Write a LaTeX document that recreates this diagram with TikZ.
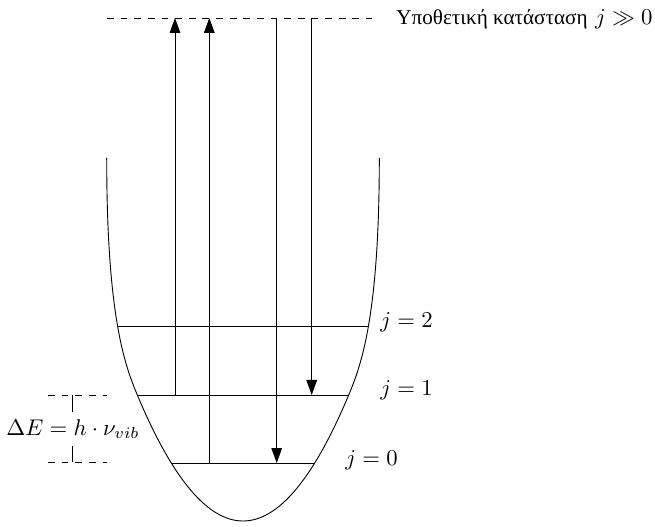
\documentclass[tikz,border=0pt]{standalone}
\usepackage{fontspec}
\newfontfamily\greekfont[Scale=0.93]{Liberation Serif}
\usetikzlibrary{arrows.meta}
\begin{document}
\begin{tikzpicture}[x=0.44pt,y=-0.44pt,
  levelline/.style={line width=0.4pt},
  trans/.style={line width=0.4pt,-{Triangle[length=6.6pt,width=4.7pt]}},
  lbl/.style={inner sep=0pt, anchor=base west}]
\useasboundingbox (0,0) rectangle (655,527);
% potential well
\coordinate (wtl) at (106.7,158);
\coordinate (wtr) at (379.3,158);
\coordinate (j1l) at (137.3,395); \coordinate (j1r) at (348.7,395);
\draw[line width=0.4pt] (wtl) .. controls (106.7,318) and (125.3,366.1) .. (j1l)
  .. controls (207.8,563) and (278.2,563) .. (j1r)
  .. controls (360.7,366.1) and (379.3,318) .. (wtr);
% levels
\coordinate (j2l) at (117.3,326); \coordinate (j2r) at (368.7,326);
\coordinate (j0l) at (172,463);   \coordinate (j0r) at (314,463);
\draw[levelline] (j2l) -- (j2r);
\draw[levelline] (j1l) -- (j1r);
\draw[levelline] (j0l) -- (j0r);
% virtual state
\coordinate (vl) at (107,18); \coordinate (vr) at (372,18);
\draw[dashed, line width=0.4pt] (vl) -- (vr);
% transitions
\coordinate (a1s) at (175,395);   \coordinate (a1e) at (175,18);
\coordinate (a2s) at (209.3,463); \coordinate (a2e) at (209.3,18);
\coordinate (a3s) at (276.7,18);  \coordinate (a3e) at (276.7,463);
\coordinate (a4s) at (311.7,18);  \coordinate (a4e) at (311.7,395);
\draw[trans] (a1s) -- (a1e);
\draw[trans] (a2s) -- (a2e);
\draw[trans] (a3s) -- (a3e);
\draw[trans] (a4s) -- (a4e);
% labels
\node[inner sep=0pt, anchor=base east] (tv) at (653,25) {\greekfont Υποθετική κατάσταση\normalfont\ $j \gg 0$};
\node[lbl] (t2) at (380,328) {$j=2$};
\node[lbl] (t1) at (380,395) {$j=1$};
\node[lbl] (t0) at (345,465) {$j=0$};
% Delta E marker
\coordinate (d1l) at (48,395); \coordinate (d1r) at (107,395);
\coordinate (d0l) at (48,462); \coordinate (d0r) at (107,462);
\coordinate (dv1) at (72.7,395); \coordinate (dv0) at (72.7,462);
\draw[dashed, line width=0.4pt] (d1l) -- (d1r);
\draw[dashed, line width=0.4pt] (d0l) -- (d0r);
\draw[line width=0.4pt] (dv1) -- (dv0);
\node[anchor=base, fill=white, inner xsep=0pt, inner ysep=3.3pt] (de) at (73,435) {$\Delta E = h\cdot\nu_{vib}$};
\end{tikzpicture}
\end{document}
